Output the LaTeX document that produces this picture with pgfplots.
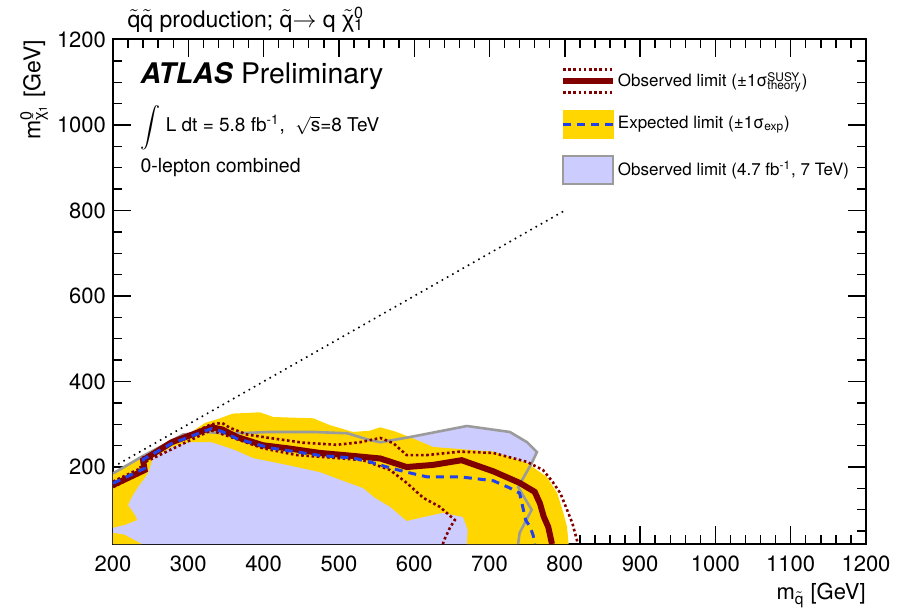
\documentclass[border=0pt]{standalone}
\usepackage{pgfplots}
\pgfplotsset{compat=1.18}
\usepackage{fontspec}
\setmainfont{TeX Gyre Heros}
\newfontfamily\grk{Liberation Sans}

\definecolor{obsred}{RGB}{128,0,0}
\definecolor{expyellow}{RGB}{255,214,0}
\definecolor{expblue}{RGB}{35,65,235}
\definecolor{oldfill}{RGB}{204,204,255}
\definecolor{oldline}{RGB}{155,155,155}

\newcommand{\sq}{$\tilde{\mbox{q}}$}
\newcommand{\chiz}{$\tilde{\mbox{\grk χ}}$}

\begin{document}
\begin{tikzpicture}
\useasboundingbox (0,0) rectangle (450pt,305.5pt);
\begin{axis}[
  at={(56.5pt,33.5pt)}, anchor=south west,
  scale only axis, width=376.5pt, height=252.25pt,
  xmin=200, xmax=1200, ymin=20, ymax=1200,
  clip mode=individual,
  xtick={200,300,...,1200}, ytick={200,400,...,1200},
  minor xtick={220,240,...,1180}, minor ytick={50,100,...,1150},
  tick align=inside,
  major tick length=9pt, minor tick length=4.5pt,
  axis line style={line width=1pt},
  every tick/.style={black, line width=0.7pt},
  tick label style={font=\fontsize{11}{13}\selectfont},
  xticklabel style={yshift=-2.5pt},
  /pgf/number format/assume math mode=true,
  /pgf/number format/1000 sep={},
  xlabel={m\textsubscript{\sq} [GeV]},
  xlabel style={at={(rel axis cs:1,-0.11)}, anchor=base east, font=\fontsize{11}{13}\selectfont, inner sep=0pt},
  ylabel={m\rlap{\textsuperscript{0}}\textsubscript{\chiz\textsubscript{1}} [GeV]},
  ylabel style={at={(rel axis cs:-0.086,1)}, anchor=south east, font=\fontsize{11.5}{13}\selectfont, inner sep=0pt},
  legend style={at={(axis cs:793,1134)}, anchor=north west, draw=none, fill=none,
    font=\fontsize{8.5}{10}\selectfont, row sep=8pt, inner sep=0pt,
    nodes={inner sep=1pt},
    /tikz/every even column/.append style={column sep=5pt}},
  legend cell align=left,
]

% 7 TeV observed exclusion region (filled)
\addplot[fill=oldfill, draw=none, forget plot] coordinates {
 (200,20)(200,185)(238,224)(293,276)(322,282)(340,280)(355,276)(365,279)(408,282)
 (466,282)(511,279)(541,263)(555,258)(594,270)(670,296)(727,282)(750,258)(763,235)
 (756,209)(738,153)(756,100)(740,46)(738,20)} -- cycle;

% expected limit +-1 sigma band
\addplot[fill=expyellow, draw=none, forget plot] coordinates {
 (200,188)(230,215)(245,228)(265,240)(290,265)(322,303)(342,314)(359,325)(395,328)
 (413,317)(466,314)(488,298)(519,282)(541,285)(555,293)(575,283)(594,270)(625,247)
 (661,242)(705,236)(750,209)(776,177)(790,139)(798,93)(803,60)(805,20)
 (670,20)(671,53)(665,83)(638,93)(612,83)(590,74)(568,107)(548,128)(532,151)(510,165)
 (475,188)(431,205)(386,221)(362,240)(345,250)(331,258)(300,258)(278,247)(253,221)
 (247,188)(242,174)(233,153)(225,130)(220,111)(229,88)(232,76)(216,65)(200,58)} -- cycle;
\addplot[fill=expyellow, draw=none, forget plot] coordinates {
 (200,20)(200,46)(215,42)(238,20)} -- cycle;

% kinematic boundary
\addplot[black, line width=0.8pt, dash pattern=on 0.8pt off 2.2pt, forget plot]
 coordinates {(200,200)(800,800)};

% 7 TeV observed contour
\addplot[oldline, line width=1.3pt, forget plot] coordinates {
 (200,185)(238,224)(293,276)(322,282)(340,280)(355,276)(365,279)(408,282)
 (466,282)(511,279)(541,263)(555,258)(594,270)(670,296)(727,282)(750,258)(763,235)
 (756,209)(738,153)(756,100)(740,46)(738,20)};

% observed limit, theory uncertainty
\addplot[obsred, line width=1.3pt, dash pattern=on 1.3pt off 1.3pt, forget plot] coordinates {
 (200,166)(240,200)(240,222)(330,300)(345,303)(355,292)(378,276)(408,268)(452,257)
 (497,252)(528,258)(555,268)(572,256)(590,228)(617,228)(661,236)(705,233)(750,212)
 (771,193)(784,165)(794,139)(803,100)(810,69)(816,30)(817,20)};
\addplot[obsred, line width=1.3pt, dash pattern=on 1.3pt off 1.3pt, forget plot] coordinates {
 (200,153)(238,186)(236,206)(330,286)(360,268)(399,244)(444,228)(490,222)(532,216)
 (568,193)(590,163)(612,128)(634,107)(654,76)(648,60)(640,30)(638,20)};

% observed limit
\addplot[obsred, line width=3pt, forget plot] coordinates {
 (200,158)(242,193)(240,216)(278,258)(331,293)(345,288)(365,270)(399,251)(431,244)
 (475,233)(519,226)(555,220)(590,200)(625,205)(663,216)(705,190)(740,163)(760,142)
 (767,115)(772,84)(778,60)(783,20)};

% expected limit
\addplot[expblue, line width=1.5pt, dash pattern=on 4pt off 3pt, forget plot] coordinates {
 (200,162)(242,197)(240,218)(278,255)(331,290)(345,283)(365,266)(408,245)(475,227)
 (519,221)(541,212)(564,200)(590,188)(617,177)(661,177)(705,168)(727,151)(740,139)
 (745,100)(748,76)(754,60)(758,40)(760,20)};

\addlegendimage{legend image code/.code={
  \draw[obsred, line width=1.3pt, dash pattern=on 1.3pt off 1.3pt] (0pt,5.75pt)--(25pt,5.75pt);
  \draw[obsred, line width=3pt] (0pt,0pt)--(25pt,0pt);
  \draw[obsred, line width=1.3pt, dash pattern=on 1.3pt off 1.3pt] (0pt,-5.75pt)--(25pt,-5.75pt);}}
\addlegendentry{Observed limit (±1σ\rlap{\textsuperscript{SUSY}}\textsubscript{theory})}
\addlegendimage{legend image code/.code={
  \fill[expyellow] (0pt,-7pt) rectangle (25pt,7pt);
  \draw[expblue, line width=1.5pt, dash pattern=on 4pt off 3pt] (0pt,0pt)--(25pt,0pt);}}
\addlegendentry{Expected limit (±1σ\textsubscript{exp})}
\addlegendimage{legend image code/.code={
  \filldraw[fill=oldfill, draw=oldline, line width=1.3pt] (0pt,-7pt) rectangle (25pt,7pt);}}
\addlegendentry{Observed limit (4.7 fb\textsuperscript{-1}, 7 TeV)}

\node[anchor=base west, font=\fontsize{11.5}{13}\selectfont, inner sep=0pt]
  at (axis cs:219,1229) {\sq\sq{} production; \sq$\rightarrow$ q \chiz\rlap{\textsuperscript{0}}\textsubscript{1}};
\node[anchor=base west, font=\fontsize{14.2}{16}\selectfont, inner sep=0pt]
  at (axis cs:236,1098) {\textbf{\textit{ATLAS}} Preliminary};
\node[anchor=base west, font=\fontsize{9.5}{11}\selectfont, inner sep=0pt]
  at (axis cs:236,984) {$\displaystyle\int$ L dt = 5.8 fb\textsuperscript{-1},\ \ $\sqrt{\mbox{s}}$=8 TeV};
\node[anchor=base west, font=\fontsize{9.75}{11}\selectfont, inner sep=0pt]
  at (axis cs:236,888) {0-lepton combined};
\end{axis}
\end{tikzpicture}
\end{document}
